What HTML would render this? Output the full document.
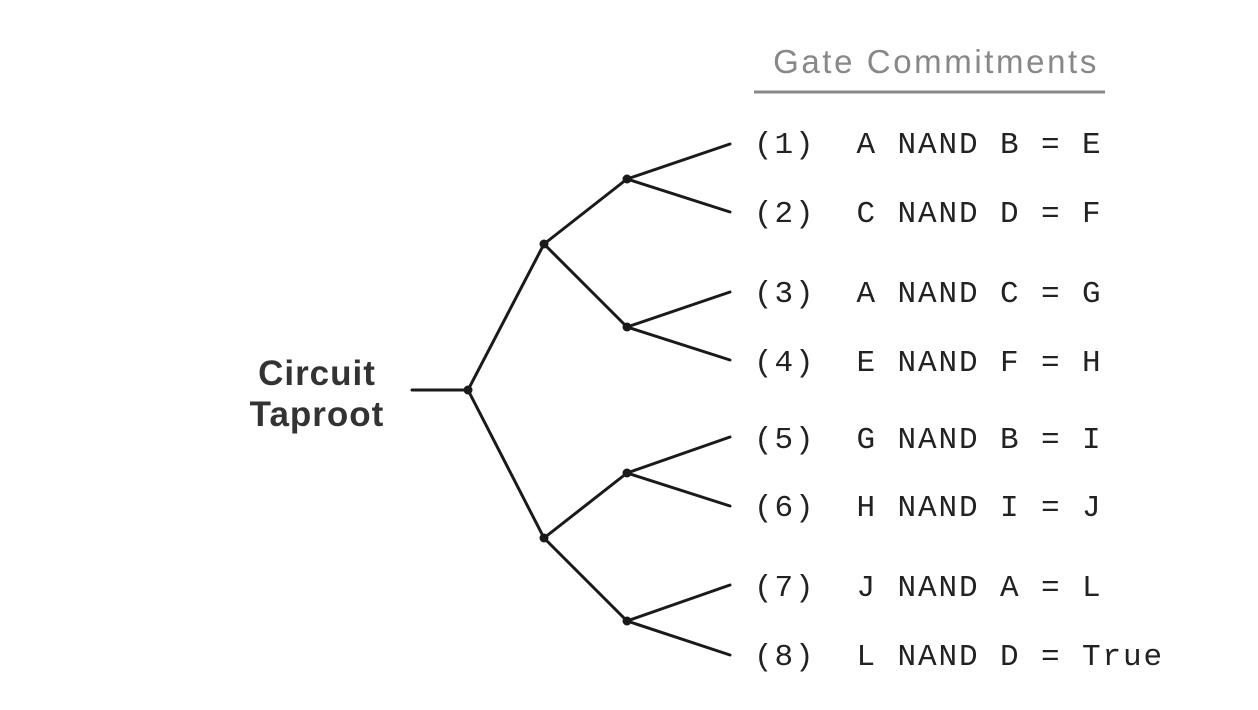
<!DOCTYPE html>
<html><head><style>
html,body{margin:0;padding:0;background:#fff;}
body{width:1258px;height:710px;position:relative;overflow:hidden;}
.m text{white-space:pre;}
</style></head><body>
<svg width="1258" height="710" xmlns="http://www.w3.org/2000/svg" style="position:absolute;left:0;top:0">
<g stroke="#1a1a1a" stroke-width="3" fill="none" stroke-linecap="round">
<line x1="412" y1="390" x2="468" y2="390"/>
<line x1="468" y1="390" x2="544" y2="244"/>
<line x1="468" y1="390" x2="544" y2="538"/>
<line x1="544" y1="244" x2="627" y2="179"/>
<line x1="544" y1="244" x2="627" y2="327"/>
<line x1="544" y1="538" x2="627" y2="473"/>
<line x1="544" y1="538" x2="627" y2="621"/>
<line x1="627" y1="179" x2="730" y2="144"/>
<line x1="627" y1="179" x2="730" y2="212"/>
<line x1="627" y1="327" x2="730" y2="292"/>
<line x1="627" y1="327" x2="730" y2="360"/>
<line x1="627" y1="473" x2="730" y2="437"/>
<line x1="627" y1="473" x2="730" y2="506"/>
<line x1="627" y1="621" x2="730" y2="585"/>
<line x1="627" y1="621" x2="730" y2="655"/>
</g>
<g fill="#1a1a1a">
<circle cx="468" cy="390" r="4.5"/><circle cx="544" cy="244" r="4.5"/><circle cx="544" cy="538" r="4.5"/>
<circle cx="627" cy="179" r="4.5"/><circle cx="627" cy="327" r="4.5"/><circle cx="627" cy="473" r="4.5"/><circle cx="627" cy="621" r="4.5"/>
</g>
<text x="936" y="73" text-anchor="middle" font-family="Liberation Sans, sans-serif" font-size="33" fill="#888" letter-spacing="2.6">Gate Commitments</text>
<line x1="754" y1="92" x2="1105" y2="92" stroke="#888" stroke-width="3"/>
<g font-family="Liberation Sans, sans-serif" font-size="35" font-weight="bold" fill="#333" text-anchor="middle" letter-spacing="1">
<text x="317" y="385">Circuit</text>
<text x="317" y="426">Taproot</text>
</g>
<g class="m" font-family="Liberation Mono, monospace" font-size="31" fill="#222" letter-spacing="1.9">
<text x="754" y="153">(1)  A NAND B = E</text>
<text x="754" y="222">(2)  C NAND D = F</text>
<text x="754" y="302">(3)  A NAND C = G</text>
<text x="754" y="371">(4)  E NAND F = H</text>
<text x="754" y="448">(5)  G NAND B = I</text>
<text x="754" y="516">(6)  H NAND I = J</text>
<text x="754" y="596">(7)  J NAND A = L</text>
<text x="754" y="665">(8)  L NAND D = True</text>
</g>
</svg>
</body></html>
